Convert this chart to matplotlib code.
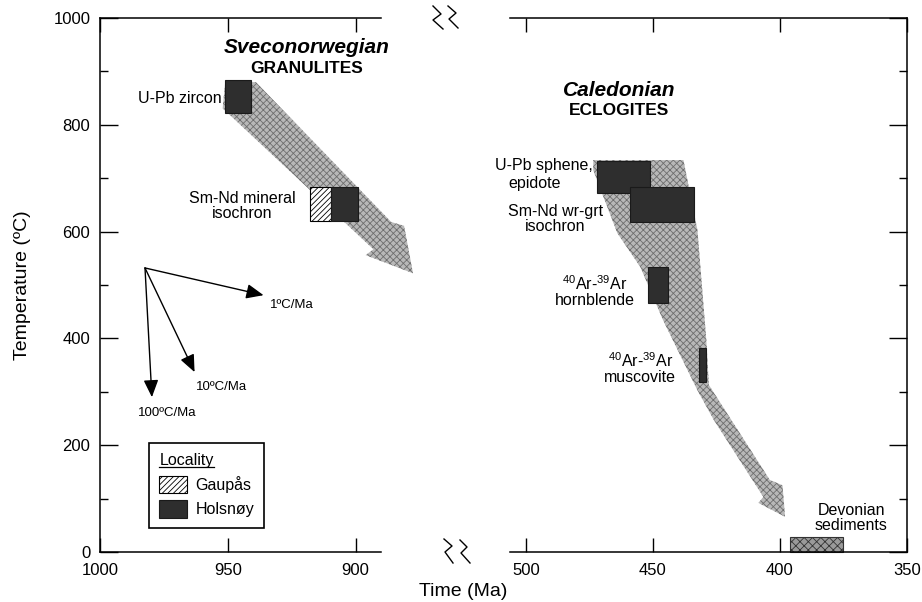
import matplotlib
matplotlib.use("Agg")
import matplotlib.pyplot as plt
from matplotlib.patches import Polygon, Rectangle, Patch
from matplotlib.lines import Line2D

plt.rcParams["font.family"] = ["Liberation Sans", "DejaVu Sans"]
plt.rcParams["mathtext.fontset"] = "custom"
plt.rcParams["mathtext.rm"] = "Liberation Sans"
plt.rcParams["mathtext.it"] = "Liberation Sans:italic"
plt.rcParams["mathtext.bf"] = "Liberation Sans:bold"
plt.rcParams["hatch.linewidth"] = 0.6

# --- stippled cooling paths (time Ma, temperature C) ---
svn_path_t = [939, 886, 881, 877.5, 896, 893, 952, 951]
svn_path_T = [880, 618, 611, 522, 556, 567, 831, 880]

cal_path_t = [473.5, 438, 432.5, 429, 428, 404, 399, 398, 408.5, 406.5, 426, 432.5, 446, 455, 464, 469.5, 473.5]
cal_path_T = [734, 734, 603, 397, 313, 135, 125, 66, 92, 103, 247, 303, 434, 534, 597, 665, 715]

# --- geochronology boxes: (old, young) Ma, (low, high) C ---
svn_box_t = [(951, 941), (918, 909.5), (909.5, 899)]
svn_box_T = [(822, 884), (620, 683), (620, 683)]
svn_box_loc = ["Holsnøy", "Gaupås", "Holsnøy"]

cal_box_t = [(472, 451), (459, 434), (452, 444), (432, 429)]
cal_box_T = [(672, 732), (618, 683), (466, 534), (318, 382)]

dev_t = (396, 375)
dev_T = (0, 28)

# --- reference cooling-rate vectors ---
rate_origin = (982.4, 532)
rate_tips = [(936, 481), (963, 337), (979.7, 290)]
rate_labels = ["1ºC/Ma", "10ºC/Ma", "100ºC/Ma"]
rate_label_pos = [(933.5, 462), (962.5, 309), (973.8, 260)]

svn_ticks = [1000, 950, 900]
cal_ticks = [500, 450, 400, 350]
y_major = [0, 200, 400, 600, 800, 1000]
y_minor = [100, 300, 500, 700, 900]

STIPPLE = dict(facecolor="#b8b8b8", edgecolor="#6e6e6e", hatch="xxxxx", linewidth=0)
DARK = dict(facecolor="#2e2e2e", edgecolor="#1a1a1a", linewidth=0.8)
HATCH = dict(facecolor="white", edgecolor="black", hatch="//////", linewidth=0.8)

fig = plt.figure(figsize=(9.22, 6.02), dpi=100)
ax1 = fig.add_axes([0.1085, 0.083, 0.3048, 0.887])
ax2 = fig.add_axes([0.5531, 0.083, 0.4306, 0.887])

for ax in (ax1, ax2):
    ax.set_ylim(0, 1000)
    ax.set_yticks(y_major)
    ax.set_yticks(y_minor, minor=True)
    for s in ax.spines.values():
        s.set_linewidth(1.1)
    ax.tick_params(axis="x", which="major", direction="in", length=10, width=1,
                   top=True, labeltop=False, labelsize=12, pad=8)
    ax.tick_params(axis="y", which="major", direction="in", length=13, width=1, labelsize=12, pad=7)
    ax.tick_params(axis="y", which="minor", direction="in", length=6, width=1)
    ax.tick_params(axis="x", which="minor", bottom=False, top=False)

ax1.set_xlim(1000, 890)
ax1.set_xticks(svn_ticks)
ax1.spines["right"].set_visible(False)
ax1.tick_params(axis="y", which="both", right=False)

ax2.set_xlim(506.3, 350)
ax2.set_xticks(cal_ticks)
ax2.spines["left"].set_visible(False)
ax2.tick_params(axis="y", which="both", left=False, right=True, labelleft=False, labelright=False)

# Sveconorwegian panel
ax1.add_patch(Polygon(list(zip(svn_path_t, svn_path_T)), closed=True, clip_on=False, zorder=1, **STIPPLE))
for (t0, t1), (T0, T1), loc in zip(svn_box_t, svn_box_T, svn_box_loc):
    style = HATCH if loc == "Gaupås" else DARK
    ax1.add_patch(Rectangle((t0, T0), t1 - t0, T1 - T0, zorder=2, **style))

for (tt, TT) in rate_tips:
    ax1.annotate("", xy=(tt, TT), xytext=rate_origin,
                 arrowprops=dict(arrowstyle="-|>,head_length=0.7,head_width=0.3", lw=1,
                                 color="black", shrinkA=0, shrinkB=0, mutation_scale=15,
                                 facecolor="#333333"))
ax1.text(*rate_label_pos[0], rate_labels[0], fontsize=9.5, ha="left", va="center")
ax1.text(*rate_label_pos[1], rate_labels[1], fontsize=9.5, ha="left", va="center")
ax1.text(*rate_label_pos[2], rate_labels[2], fontsize=9.5, ha="center", va="center")

ax1.text(919, 944, "Sveconorwegian", fontsize=15, fontweight="bold", style="italic", ha="center", va="center")
ax1.text(919, 905, "GRANULITES", fontsize=12.5, fontweight="bold", ha="center", va="center")
ax1.text(952.5, 850, "U-Pb zircon", fontsize=11.5, ha="right", va="center")
ax1.text(944.5, 648, "Sm-Nd mineral\nisochron", fontsize=11.5, ha="center", va="center", linespacing=1.0)

leg = ax1.legend(handles=[Patch(label="Gaupås", **HATCH), Patch(label="Holsnøy", **DARK)],
                 title="Locality", loc="lower left", bbox_to_anchor=(0.174, 0.045),
                 borderaxespad=0, fancybox=False, edgecolor="black", framealpha=1,
                 fontsize=11.5, title_fontsize=11.5, alignment="left",
                 handlelength=1.75, handleheight=1.3, handletextpad=0.5,
                 labelspacing=0.45, borderpad=0.65)
leg.get_frame().set_linewidth(1.2)

# Caledonian panel
ax2.add_patch(Polygon(list(zip(cal_path_t, cal_path_T)), closed=True, clip_on=False, zorder=1, **STIPPLE))
for (t0, t1), (T0, T1) in zip(cal_box_t, cal_box_T):
    ax2.add_patch(Rectangle((t0, T0), t1 - t0, T1 - T0, zorder=2, **DARK))
ax2.add_patch(Rectangle((dev_t[0], dev_T[0]), dev_t[1] - dev_t[0], dev_T[1] - dev_T[0],
                        zorder=2, clip_on=False, facecolor="#9a9a9a", edgecolor="#333333",
                        hatch="xxxx", linewidth=0.8))

ax2.text(463.2, 865, "Caledonian", fontsize=15, fontweight="bold", style="italic", ha="center", va="center")
ax2.text(463.5, 826, "ECLOGITES", fontsize=12.5, fontweight="bold", ha="center", va="center")
ax2.text(493.1, 723, "U-Pb sphene,", fontsize=11.5, ha="center", va="center", clip_on=False)
ax2.text(496.4, 691, "epidote", fontsize=11.5, ha="center", va="center", clip_on=False)
ax2.text(488.5, 623, "Sm-Nd wr-grt\nisochron", fontsize=11.5, ha="center", va="center", linespacing=1.0)
ax2.text(473, 488, "$^{40}$Ar-$^{39}$Ar\nhornblende", fontsize=11.5, ha="center", va="center", linespacing=1.0)
ax2.text(455, 345, "$^{40}$Ar-$^{39}$Ar\nmuscovite", fontsize=11.5, ha="center", va="center", linespacing=1.0)
ax2.text(372, 64, "Devonian\nsediments", fontsize=11.5, ha="center", va="center", linespacing=1.0)

ax1.set_ylabel("Temperature (ºC)", fontsize=14)
ax1.yaxis.set_label_coords(-0.245, 0.5)
fig.text(463 / 922, 1 - 592 / 602, "Time (Ma)", fontsize=14, ha="center", va="center")

# axis-break marks (pixel positions on the figure)
W, H = 922, 602
for xs, ys in [([433, 441, 433, 443], [6, 14, 20, 29]), ([448, 456, 449, 458], [6, 13, 19, 28]),
               ([444, 452, 445, 453], [539, 546, 552, 563]), ([460, 467, 461, 470], [540, 547, 553, 563])]:
    fig.add_artist(Line2D([x / W for x in xs], [1 - y / H for y in ys], color="black", lw=1,
                          transform=fig.transFigure))

# underline the legend title
fig.canvas.draw()
bb = leg.get_title().get_window_extent()
fig.add_artist(Line2D([bb.x0, bb.x1], [bb.y0 + 1, bb.y0 + 1], color="black", lw=0.9, transform=None))

fig.savefig("out.png", dpi=100)
